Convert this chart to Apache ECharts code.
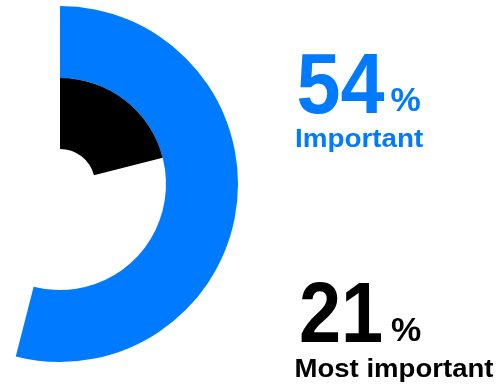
<!DOCTYPE html>
<html>
<head>
<meta charset="utf-8">
<script src="https://cdn.jsdelivr.net/npm/echarts@6/dist/echarts.min.js"></script>
<style>
  html, body { margin: 0; padding: 0; background: #ffffff; }
  #chart { width: 503px; height: 391px; }
</style>
</head>
<body>
<div id="chart"></div>
<script>
// Survey shares shown as two concentric ring arcs
const categories = ['Important', 'Most important'];
const shares = [54, 21];
const colors = ['#007AFF', '#000000'];

const chart = echarts.init(document.getElementById('chart'), null, { renderer: 'canvas' });

const center = [60, 184];
const rings = [[106, 178], [35, 106]];

function ringSeries(i) {
  return {
    type: 'pie',
    silent: true,
    center: center,
    radius: rings[i],
    startAngle: 90,
    clockwise: true,
    label: { show: false },
    labelLine: { show: false },
    emphasis: { disabled: true },
    data: [
      { name: categories[i], value: shares[i], itemStyle: { color: colors[i] } },
      { name: 'rest', value: 100 - shares[i], itemStyle: { color: 'rgba(0,0,0,0)' } }
    ]
  };
}

const font = '"Liberation Sans", Arial, sans-serif';
function txt(x, y, text, size, color, sx) {
  return {
    type: 'text', x: x, y: y, silent: true,
    scaleX: sx || 1,
    style: { text: text, fill: color, font: 'bold ' + size + 'px ' + font,
             verticalAlign: 'top', align: 'left' }
  };
}

chart.setOption({
  animation: false,
  series: [ringSeries(0), ringSeries(1)],
  graphic: [
    txt(296.5, 46, String(shares[0]), 86, colors[0], 0.92),
    txt(390.5, 85, '%', 34, colors[0]),
    txt(295, 126.5, categories[0], 26, colors[0], 1.07),
    txt(299, 275, String(shares[1]), 86, colors[1], 0.88),
    txt(391, 314.5, '%', 34, colors[1]),
    txt(294.5, 357, categories[1], 26, colors[1], 1.06)
  ]
});
</script>
</body>
</html>
